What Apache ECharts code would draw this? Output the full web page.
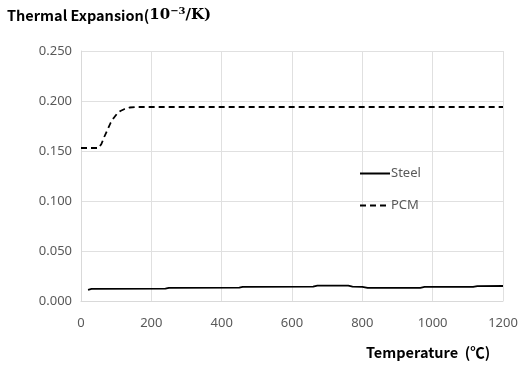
<!DOCTYPE html>
<html><head><meta charset="utf-8">
<script src="https://cdn.jsdelivr.net/npm/echarts@6/dist/echarts.min.js"></script>
<style>html,body{margin:0;padding:0;background:#fff}#c{width:521px;height:367px}</style>
</head><body><div id="c"></div>
<script>
const steelT = [20, 30, 240, 250, 450, 460, 660, 672, 760, 772, 800, 815, 965, 977, 1115, 1127, 1200];
const steelV = [0.0112, 0.0121, 0.0124, 0.0132, 0.0134, 0.0142, 0.0144, 0.0154, 0.0154, 0.0144, 0.0142, 0.0131, 0.0132, 0.0141, 0.0142, 0.0149, 0.0150];
const pcmT = [0, 50, 58, 66, 75, 84, 93, 102, 112, 124, 138, 155, 1200];
const pcmV = [0.153, 0.153, 0.157, 0.164, 0.171, 0.178, 0.183, 0.187, 0.190, 0.192, 0.1935, 0.194, 0.194];
const xTicks = [0, 200, 400, 600, 800, 1000, 1200];
const yTicks = [0, 0.05, 0.1, 0.15, 0.2, 0.25];

const font = '"Noto Sans CJK KR", "Noto Sans", sans-serif';
const lblFont = '"Noto Sans", sans-serif';
const chart = echarts.init(document.getElementById('c'), null, {renderer: 'canvas'});
chart.setOption({
  animation: false,
  backgroundColor: '#fff',
  grid: {left: 81, right: 18, top: 51, bottom: 66},
  legend: {
    orient: 'vertical', left: 354, top: 162, itemGap: 19, itemWidth: 30, itemHeight: 12,
    itemStyle: {opacity: 0},
    textStyle: {color: '#595959', fontSize: 13, fontFamily: lblFont, padding: [0, 0, 0, -4]},
    data: ['Steel', 'PCM']
  },
  xAxis: {
    type: 'value', min: xTicks[0], max: xTicks[xTicks.length - 1], interval: 200,
    axisLine: {show: true, lineStyle: {color: '#d9d9d9'}},
    axisTick: {show: false},
    splitLine: {show: true, lineStyle: {color: '#e0e0e0'}},
    axisLabel: {color: '#595959', fontSize: 13, fontFamily: lblFont, margin: 16,
      formatter: v => String(v)}
  },
  yAxis: {
    type: 'value', min: yTicks[0], max: yTicks[yTicks.length - 1], interval: 0.05,
    axisLine: {show: true, lineStyle: {color: '#d9d9d9'}},
    axisTick: {show: false},
    splitLine: {show: true, lineStyle: {color: '#e0e0e0'}},
    axisLabel: {color: '#595959', fontSize: 13, fontFamily: lblFont, margin: 9,
      formatter: v => v.toFixed(3)}
  },
  series: [
    {name: 'Steel', type: 'line', symbol: 'none', data: steelT.map((t, i) => [t, steelV[i]]),
      lineStyle: {color: '#000', width: 1.8}, itemStyle: {color: '#000'}},
    {name: 'PCM', type: 'line', symbol: 'none', data: pcmT.map((t, i) => [t, pcmV[i]]),
      lineStyle: {color: '#000', width: 1.8, type: [6, 4]}, itemStyle: {color: '#000'}}
  ],
  graphic: [
    {type: 'text', left: 7, top: 6, style: {
      text: '{a|Thermal Expansion(}{b|10}{s|−3}{b|/K)}',
      rich: {
        a: {fontSize: 14.5, fontWeight: 'bold', fontFamily: font, fill: '#000'},
        b: {fontSize: 15, fontWeight: 'bold', fontFamily: '"DejaVu Serif", serif', fill: '#000'},
        s: {fontSize: 10, fontWeight: 'bold', fontFamily: '"DejaVu Serif", serif', fill: '#000', verticalAlign: 'top', padding: [0, 0, 8, 0]}
      }
    }},
    {type: 'text', left: 366, top: 345, style: {
      text: '{a|Temperature  }{b|(℃)}',
      rich: {
        a: {fontSize: 14.5, fontWeight: 'bold', fontFamily: font, fill: '#000'},
        b: {fontSize: 14.5, fontWeight: 'bold', fontFamily: '"Noto Sans CJK KR", serif', fill: '#000'}
      }
    }}
  ]
});
</script></body></html>
